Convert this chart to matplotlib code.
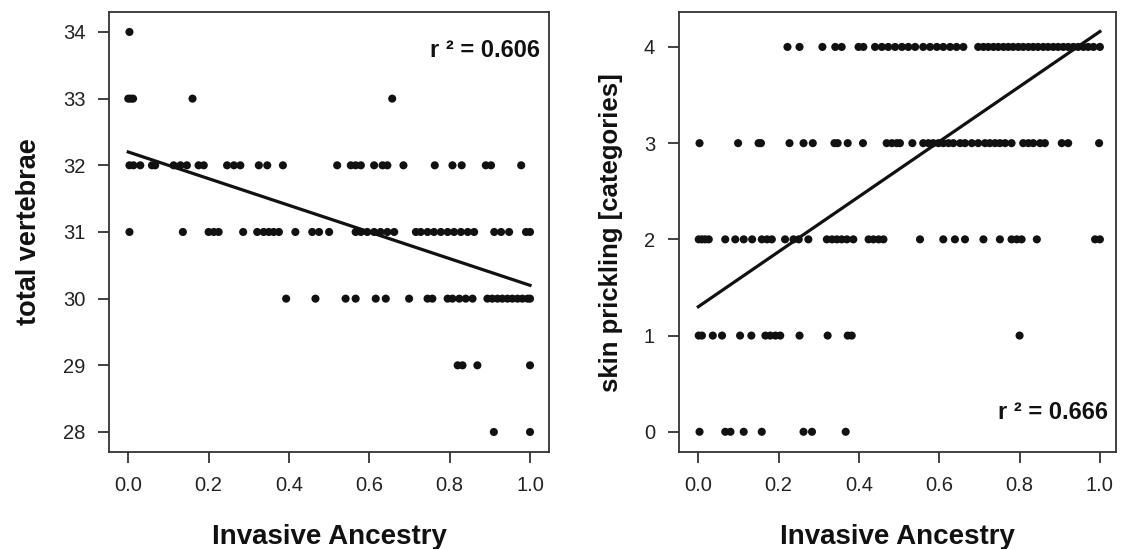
import numpy as np
from matplotlib import pyplot as plt

plt.rcParams['font.family'] = ['Liberation Sans', 'DejaVu Sans']

# left panel: total vertebrae, points grouped by row (invasive ancestry values)
vert_34 = [0.003]
vert_33 = [0.0, 0.006, 0.012, 0.16, 0.657]
vert_32 = [0.003, 0.013, 0.03, 0.059, 0.067, 0.113, 0.13, 0.146, 0.175, 0.188,
           0.246, 0.263, 0.279, 0.325, 0.346, 0.385, 0.52, 0.554, 0.566, 0.579,
           0.612, 0.633, 0.645, 0.685, 0.763, 0.807, 0.83, 0.89, 0.903, 0.978]
vert_31 = [0.003, 0.136, 0.2, 0.213, 0.225, 0.286, 0.321, 0.337, 0.35, 0.362,
           0.375, 0.416, 0.458, 0.475, 0.5, 0.566, 0.579, 0.595, 0.612, 0.628,
           0.645, 0.662, 0.716, 0.728, 0.745, 0.761, 0.778, 0.795, 0.811, 0.828,
           0.845, 0.861, 0.911, 0.928, 0.948, 0.99, 1.0]
vert_30 = [0.393, 0.466, 0.541, 0.566, 0.616, 0.641, 0.699, 0.745, 0.757, 0.795,
           0.807, 0.824, 0.84, 0.857, 0.894, 0.906, 0.919, 0.931, 0.944, 0.956,
           0.969, 0.981, 0.994, 1.0]
vert_29 = [0.82, 0.832, 0.869, 1.0]
vert_28 = [0.91, 1.0]
vert_rows = {34: vert_34, 33: vert_33, 32: vert_32, 31: vert_31,
             30: vert_30, 29: vert_29, 28: vert_28}
vert_fit = [32.2, 30.2]   # fitted line at ancestry 0 and 1
vert_r2 = 'r ² = 0.606'

# right panel: skin prickling categories
skin_4 = [0.222, 0.252, 0.309, 0.341, 0.357, 0.399, 0.411, 0.44, 0.457, 0.473,
          0.49, 0.507, 0.523, 0.54, 0.56, 0.577, 0.594, 0.61, 0.627, 0.643,
          0.66, 0.697, 0.71, 0.722, 0.735, 0.747, 0.76, 0.772, 0.784, 0.797,
          0.809, 0.822, 0.834, 0.846, 0.859, 0.871, 0.884, 0.896, 0.909, 0.921,
          0.934, 0.946, 0.959, 0.971, 0.984, 1.0]
skin_3 = [0.003, 0.099, 0.15, 0.156, 0.227, 0.262, 0.285, 0.339, 0.347, 0.372,
          0.41, 0.469, 0.482, 0.494, 0.502, 0.533, 0.56, 0.573, 0.585, 0.598,
          0.61, 0.623, 0.635, 0.652, 0.664, 0.681, 0.697, 0.714, 0.726, 0.739,
          0.751, 0.764, 0.78, 0.809, 0.822, 0.834, 0.851, 0.863, 0.905, 0.921,
          0.998]
skin_2 = [0.001, 0.009, 0.017, 0.026, 0.067, 0.092, 0.113, 0.134, 0.158, 0.171,
          0.183, 0.216, 0.237, 0.25, 0.274, 0.32, 0.333, 0.345, 0.357, 0.37,
          0.386, 0.424, 0.436, 0.449, 0.461, 0.552, 0.61, 0.639, 0.664, 0.71,
          0.751, 0.78, 0.793, 0.805, 0.843, 0.988, 1.0]
skin_1 = [0.001, 0.009, 0.036, 0.059, 0.104, 0.132, 0.167, 0.179, 0.192, 0.204,
          0.252, 0.322, 0.372, 0.382, 0.8]
skin_0 = [0.003, 0.067, 0.08, 0.113, 0.158, 0.262, 0.283, 0.367]
skin_rows = {4: skin_4, 3: skin_3, 2: skin_2, 1: skin_1, 0: skin_0}
skin_fit = [1.3, 4.16]
skin_r2 = 'r ² = 0.666'

xticks = [0.0, 0.2, 0.4, 0.6, 0.8, 1.0]
xlabel = 'Invasive Ancestry'


def flatten(rows):
    xs, ys = [], []
    for yv, xl in rows.items():
        xs += xl
        ys += [yv] * len(xl)
    return np.array(xs), np.array(ys)


def style(ax):
    for s in ax.spines.values():
        s.set_color('#333333')
        s.set_linewidth(1.3)
    ax.tick_params(direction='out', length=8, width=1.3, color='#333333',
                   labelsize=14.5, labelcolor='#222222', pad=9)
    ax.set_xticks(xticks)
    ax.set_xticklabels(['{:.1f}'.format(t) for t in xticks])


fig = plt.figure(figsize=(11.21, 5.49), dpi=100)

# left panel
ax1 = fig.add_axes([0.0972, 0.1767, 0.3928, 0.8015])
x1, y1 = flatten(vert_rows)
ax1.scatter(x1, y1, s=34, c='#111111', edgecolors='none', zorder=3)
ax1.plot([0, 1], vert_fit, c='#111111', lw=2.3, zorder=2)
ax1.set_xlim(-0.048, 1.048)
ax1.set_ylim(27.7, 34.3)
ax1.set_yticks(range(28, 35))
style(ax1)
ax1.set_xlabel(xlabel, fontsize=20, fontweight='bold', labelpad=21, color='#111111')
ax1.set_ylabel('total vertebrae', fontsize=19.5, fontweight='bold', labelpad=15, color='#111111')
ax1.text(0.979, 0.912, vert_r2, transform=ax1.transAxes, ha='right', va='center',
         fontsize=17, fontweight='bold', color='#111111')

# right panel
ax2 = fig.add_axes([0.6054, 0.1767, 0.3901, 0.8009])
x2, y2 = flatten(skin_rows)
ax2.scatter(x2, y2, s=34, c='#111111', edgecolors='none', zorder=3)
ax2.plot([0, 1], skin_fit, c='#111111', lw=2.3, zorder=2)
ax2.set_xlim(-0.049, 1.04)
ax2.set_ylim(-0.21, 4.36)
ax2.set_yticks(range(0, 5))
style(ax2)
ax2.set_xlabel(xlabel, fontsize=20, fontweight='bold', labelpad=21, color='#111111')
ax2.set_ylabel('skin prickling [categories]', fontsize=18.5, fontweight='bold', labelpad=15,
               color='#111111')
ax2.text(0.982, 0.089, skin_r2, transform=ax2.transAxes, ha='right', va='center',
         fontsize=17, fontweight='bold', color='#111111')

plt.savefig('out.png', dpi=100)
plt.close()
